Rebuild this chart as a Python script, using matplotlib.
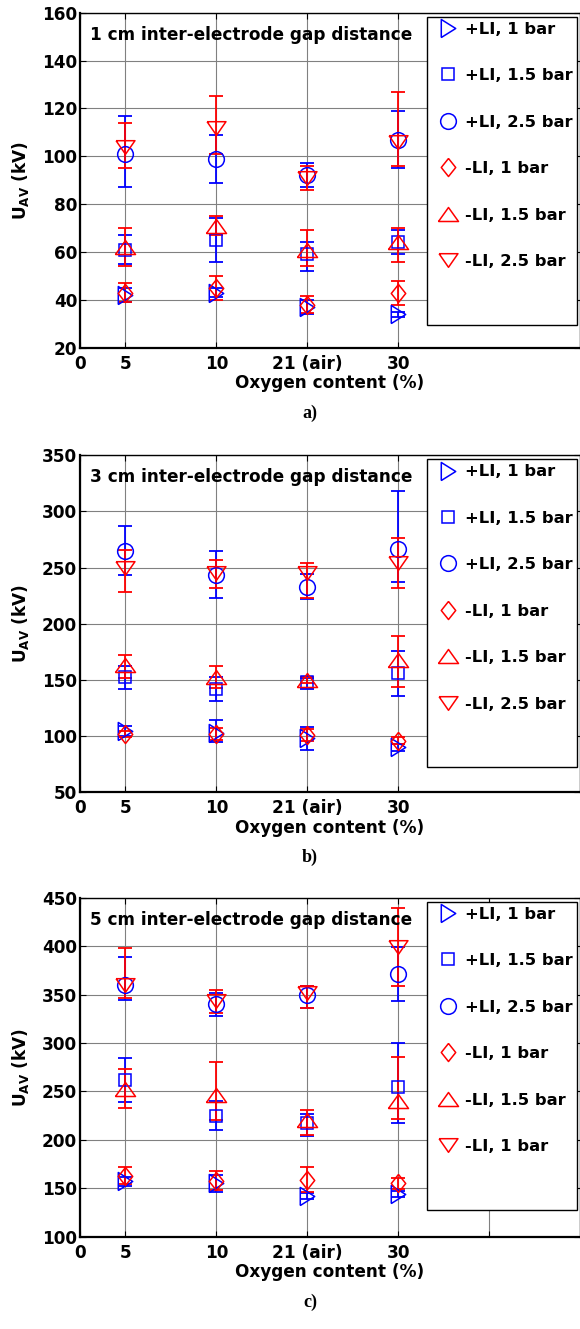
import numpy as np
import matplotlib
matplotlib.use("Agg")
import matplotlib.pyplot as plt
from matplotlib.patches import Rectangle

plt.rcParams['font.family'] = ['DejaVu Sans']
plt.rcParams['font.weight'] = 'bold'
plt.rcParams['mathtext.fontset'] = 'dejavusans'

# x categories (oxygen content), shared by all panels
x_pos = [1, 2, 3, 4]
x_labels = ['0', '5', '10', '21 (air)', '30']
x_ticks = [0.5, 1, 2, 3, 4]

series_labels = ['+LI, 1 bar', '+LI, 1.5 bar', '+LI, 2.5 bar',
                 '-LI, 1 bar', '-LI, 1.5 bar', '-LI, 2.5 bar']
series_labels_c = ['+LI, 1 bar', '+LI, 1.5 bar', '+LI, 2.5 bar',
                   '-LI, 1 bar', '-LI, 1.5 bar', '-LI, 1 bar']

# rows: +LI 1, +LI 1.5, +LI 2.5, -LI 1, -LI 1.5, -LI 2.5 ; columns: 5, 10, 21, 30 %
a_vals = [[42, 43, 37, 34],
          [61, 65, 59, 64],
          [101, 99, 92, 107],
          [43, 45, 38, 43],
          [62, 71, 61, 64],
          [104, 112, 91, 106]]
a_lo = [[3, 2, 3, 1],
        [6, 9, 7, 5],
        [14, 10, 5, 12],
        [4, 5, 3.5, 5],
        [8, 4, 7, 8],
        [9, 11, 5, 10]]
a_hi = [[3, 2, 3, 1],
        [6, 9, 5, 5],
        [16, 10, 5, 12],
        [4, 5, 3.5, 5],
        [8, 4, 8, 6],
        [10, 13, 5, 21]]

b_vals = [[105, 103, 98, 90],
          [153, 142, 148, 156],
          [265, 243, 233, 267],
          [102, 102, 101, 96],
          [163, 153, 150, 168],
          [250, 245, 245, 254]]
b_lo = [[5, 8, 10, 3],
        [11, 11, 6, 20],
        [22, 20, 11, 30],
        [3, 5, 5, 3],
        [11, 10, 3, 24],
        [22, 13, 22, 22]]
b_hi = [[4, 11, 10, 3],
        [9, 11, 4, 20],
        [22, 22, 11, 51],
        [3, 5, 5, 3],
        [9, 9, 3, 21],
        [16, 12, 9, 22]]

c_vals = [[157, 155, 142, 144],
          [262, 225, 217, 255],
          [360, 340, 350, 371],
          [163, 158, 159, 155],
          [252, 246, 220, 240],
          [360, 343, 352, 399]]
c_lo = [[5, 9, 3, 3],
        [23, 15, 13, 38],
        [16, 12, 14, 28],
        [9, 10, 13, 6],
        [19, 25, 15, 18],
        [14, 12, 16, 40]]
c_hi = [[5, 9, 3, 3],
        [23, 15, 10, 45],
        [29, 12, 9, 28],
        [9, 10, 13, 6],
        [21, 34, 11, 46],
        [38, 12, 7, 40]]

# marker outlines (matlab style)
m_right = [(-0.8, -1), (-0.8, 1), (0.8, 0), (-0.8, -1)]
m_diam = [(0, 1), (0.8, 0), (0, -1), (-0.8, 0), (0, 1)]
m_up = [(-1, -0.7), (1, -0.7), (0, 0.7), (-1, -0.7)]
m_down = [(-1, 0.72), (1, 0.72), (0, -0.72), (-1, 0.72)]
markers = [m_right, 's', 'o', m_diam, m_up, m_down]
msizes = [13, 8.6, 11.3, 13, 14.4, 13.6]
colors = ['#0000ff'] * 3 + ['#ff0000'] * 3

panels = [
    dict(vals=a_vals, lo=a_lo, hi=a_hi, ylim=(20, 160), ystep=20, top=12.7, bot=347.7,
         title='1 cm inter-electrode gap distance', labels=series_labels, tag='a)', tag_y=413,
         extra_tick=False),
    dict(vals=b_vals, lo=b_lo, hi=b_hi, ylim=(50, 350), ystep=50, top=455.3, bot=792.3,
         title='3 cm inter-electrode gap distance', labels=series_labels, tag='b)', tag_y=857,
         extra_tick=False),
    dict(vals=c_vals, lo=c_lo, hi=c_hi, ylim=(100, 450), ystep=50, top=897.7, bot=1236.7,
         title='5 cm inter-electrode gap distance', labels=series_labels_c, tag='c)', tag_y=1302,
         extra_tick=True),
]

W, H = 580, 1329
fig = plt.figure(figsize=(W / 100, H / 100), dpi=100)
fs = 12.2

for p in panels:
    ax = fig.add_axes([80 / W, 1 - p['bot'] / H, 500 / W, (p['bot'] - p['top']) / H])
    handles = []
    for i in range(6):
        v = np.array(p['vals'][i], dtype=float)
        err = [p['lo'][i], p['hi'][i]]
        ax.errorbar(x_pos, v, yerr=err, fmt='none', ecolor=colors[i],
                    elinewidth=1.3, capsize=5, capthick=1.3, zorder=3)
        h, = ax.plot(x_pos, v, linestyle='none', marker=markers[i], ms=msizes[i],
                     mfc='none', mec=colors[i], mew=1.1, zorder=4)
        handles.append(h)

    ax.set_xlim(0.5, 6.0)
    ax.set_ylim(*p['ylim'])
    ticks = list(x_ticks)
    labels = list(x_labels)
    if p['extra_tick']:
        ticks.append(5)
        labels.append('')
    ax.set_xticks(ticks)
    ax.set_xticklabels(labels)
    ax.set_yticks(np.arange(p['ylim'][0], p['ylim'][1] + 1, p['ystep']))
    ax.grid(True, color='0.5', lw=0.8)
    ax.set_axisbelow(True)
    ax.tick_params(direction='in', top=True, right=True, length=4, width=0.8,
                   labelsize=fs, pad=2)
    ax.tick_params(axis='x', pad=5)
    for s in ['left', 'bottom']:
        ax.spines[s].set_linewidth(1.6)
    for s in ['top', 'right']:
        ax.spines[s].set_linewidth(1.0)

    ax.set_xlabel('Oxygen content (%)', fontsize=fs, fontweight='bold', labelpad=1)
    ax.set_ylabel(r'U$_{\mathbf{AV}}$ (kV)', fontsize=fs, fontweight='bold', labelpad=8)

    ax.text(10 / 500, 1 - 22 / (p['bot'] - p['top']), p['title'], transform=ax.transAxes,
            fontsize=fs, fontweight='bold', va='center', ha='left', zorder=5)

    # legend box
    ph = p['bot'] - p['top']
    box_top = 1 - 4 / ph
    box_bot = 1 - 312 / ph
    ax.add_patch(Rectangle((347 / 500, box_bot), 150 / 500, box_top - box_bot,
                           transform=ax.transAxes, facecolor='white', edgecolor='black',
                           lw=1.0, zorder=6))
    leg = ax.legend(handles, p['labels'], loc='upper left',
                    bbox_to_anchor=(358 / 500, 1 - 9 / ph), frameon=False,
                    handlelength=1.25, handletextpad=0.4,
                    labelspacing=1.92, borderpad=0, borderaxespad=0,
                    prop=dict(weight='bold', size=11.8))
    leg.set_zorder(7)

    fig.text(310 / W, 1 - p['tag_y'] / H, p['tag'], fontsize=13, fontweight='bold',
             family='Liberation Serif', ha='center', va='center')

fig.savefig('out.png', dpi=100)
